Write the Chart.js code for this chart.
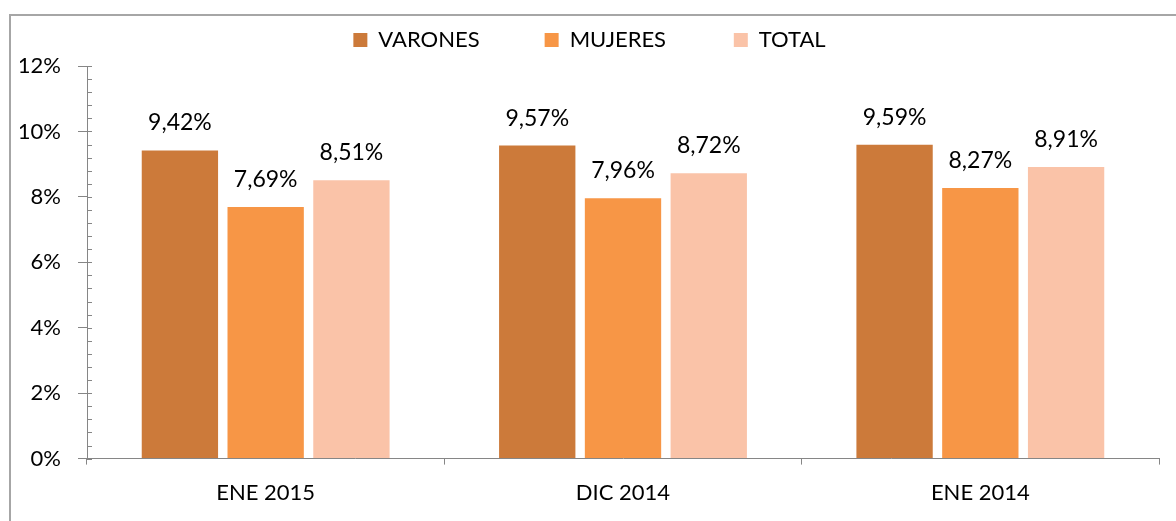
<!DOCTYPE html>
<html>
<head>
<meta charset="utf-8">
<script src="https://cdn.jsdelivr.net/npm/chart.js@4/dist/chart.umd.min.js"></script>
<style>
    html, body { margin: 0; padding: 0; background: #fff; overflow: hidden; }
    #wrap { position: relative; width: 1176px; height: 521px; }
    #frame { position: absolute; left: 9px; top: 14px; width: 1300px; height: 700px; border: 2px solid #a6a6a6; box-sizing: border-box; }
    #chart { position: absolute; left: 0; top: 0; }
</style>
</head>
<body>
<div id="wrap">
    <div id="frame"></div>
    <canvas id="chart" width="1176" height="521"></canvas>
</div>
<script>
const categories = ['ENE 2015', 'DIC 2014', 'ENE 2014'];
const varones = [9.42, 9.57, 9.59];
const mujeres = [7.69, 7.96, 8.27];
const total = [8.51, 8.72, 8.91];
const yTicks = [0, 2, 4, 6, 8, 10, 12];

const FONT = 'Lato, "Open Sans", sans-serif';
const AXIS_GREY = '#868686';
// wide spacing after each legend item (last one gets none)
const LEGEND_GAPS = ['\u2003\u2003\u2003\u2009\u2009', '\u2003\u2003\u2003\u2009\u2009\u2009', ''];

function fmt(v) {
    return v.toFixed(2).replace('.', ',') + '%';
}

// value labels above each bar
const barLabels = {
    id: 'barLabels',
    afterDatasetsDraw(chart) {
        const ctx = chart.ctx;
        ctx.save();
        ctx.font = '23px ' + FONT;
        ctx.fillStyle = '#000';
        ctx.textAlign = 'center';
        ctx.textBaseline = 'alphabetic';
        chart.data.datasets.forEach((ds, i) => {
            chart.getDatasetMeta(i).data.forEach((bar, j) => {
                ctx.fillText(fmt(ds.data[j]), bar.x, bar.y - 20);
            });
        });
        ctx.restore();
    }
};

// small minor ticks on the inside of the y axis
const minorTicks = {
    id: 'minorTicks',
    afterDraw(chart) {
        const y = chart.scales.y;
        const ctx = chart.ctx;
        ctx.save();
        ctx.strokeStyle = AXIS_GREY;
        ctx.lineWidth = 1;
        for (let v = 0; v <= 12.001; v += 0.4) {
            const py = Math.round(y.getPixelForValue(v)) + 0.5;
            ctx.beginPath();
            ctx.moveTo(y.right, py);
            ctx.lineTo(y.right + 5, py);
            ctx.stroke();
        }
        ctx.restore();
    }
};

new Chart(document.getElementById('chart'), {
    type: 'bar',
    data: {
        labels: categories,
        datasets: [
            { label: 'VARONES', data: varones, backgroundColor: '#CC7A3A' },
            { label: 'MUJERES', data: mujeres, backgroundColor: '#F79646' },
            { label: 'TOTAL', data: total, backgroundColor: '#FAC3A8' }
        ]
    },
    options: {
        responsive: false,
        animation: false,
        events: [],
        layout: { padding: { top: 19, right: 17, bottom: 0, left: 20 } },
        datasets: {
            bar: { categoryPercentage: 0.72, barPercentage: 0.89 }
        },
        plugins: {
            legend: {
                position: 'top',
                labels: {
                    font: { family: FONT, size: 22 },
                    color: '#000',
                    boxWidth: 14,
                    boxHeight: 14,
                    padding: 10,
                    generateLabels: chart => {
                        const items = Chart.defaults.plugins.legend.labels.generateLabels(chart);
                        items.forEach((it, i) => { it.text += LEGEND_GAPS[i] || ''; });
                        return items;
                    }
                }
            },
            // empty spacer between legend and plot
            subtitle: {
                display: true,
                text: '',
                weight: 500,
                font: { size: 1, lineHeight: 1 },
                padding: { top: 0, bottom: 4 }
            },
            tooltip: { enabled: false }
        },
        scales: {
            x: {
                offset: true,
                grid: {
                    offset: true,
                    drawOnChartArea: false,
                    tickLength: 6,
                    color: AXIS_GREY
                },
                border: { display: true, color: AXIS_GREY, width: 1 },
                ticks: {
                    font: { family: FONT, size: 22 },
                    color: '#000',
                    padding: 15
                }
            },
            y: {
                min: 0,
                max: 12,
                afterBuildTicks: scale => {
                    scale.ticks = yTicks.map(v => ({ value: v }));
                },
                afterFit: scale => { scale.width = 67; },
                grid: {
                    drawOnChartArea: false,
                    tickLength: 9,
                    color: AXIS_GREY
                },
                border: { display: true, color: AXIS_GREY, width: 1 },
                ticks: {
                    font: { family: FONT, size: 22 },
                    color: '#000',
                    padding: 17,
                    callback: v => v + '%'
                }
            }
        }
    },
    plugins: [barLabels, minorTicks]
});
</script>
</body>
</html>
